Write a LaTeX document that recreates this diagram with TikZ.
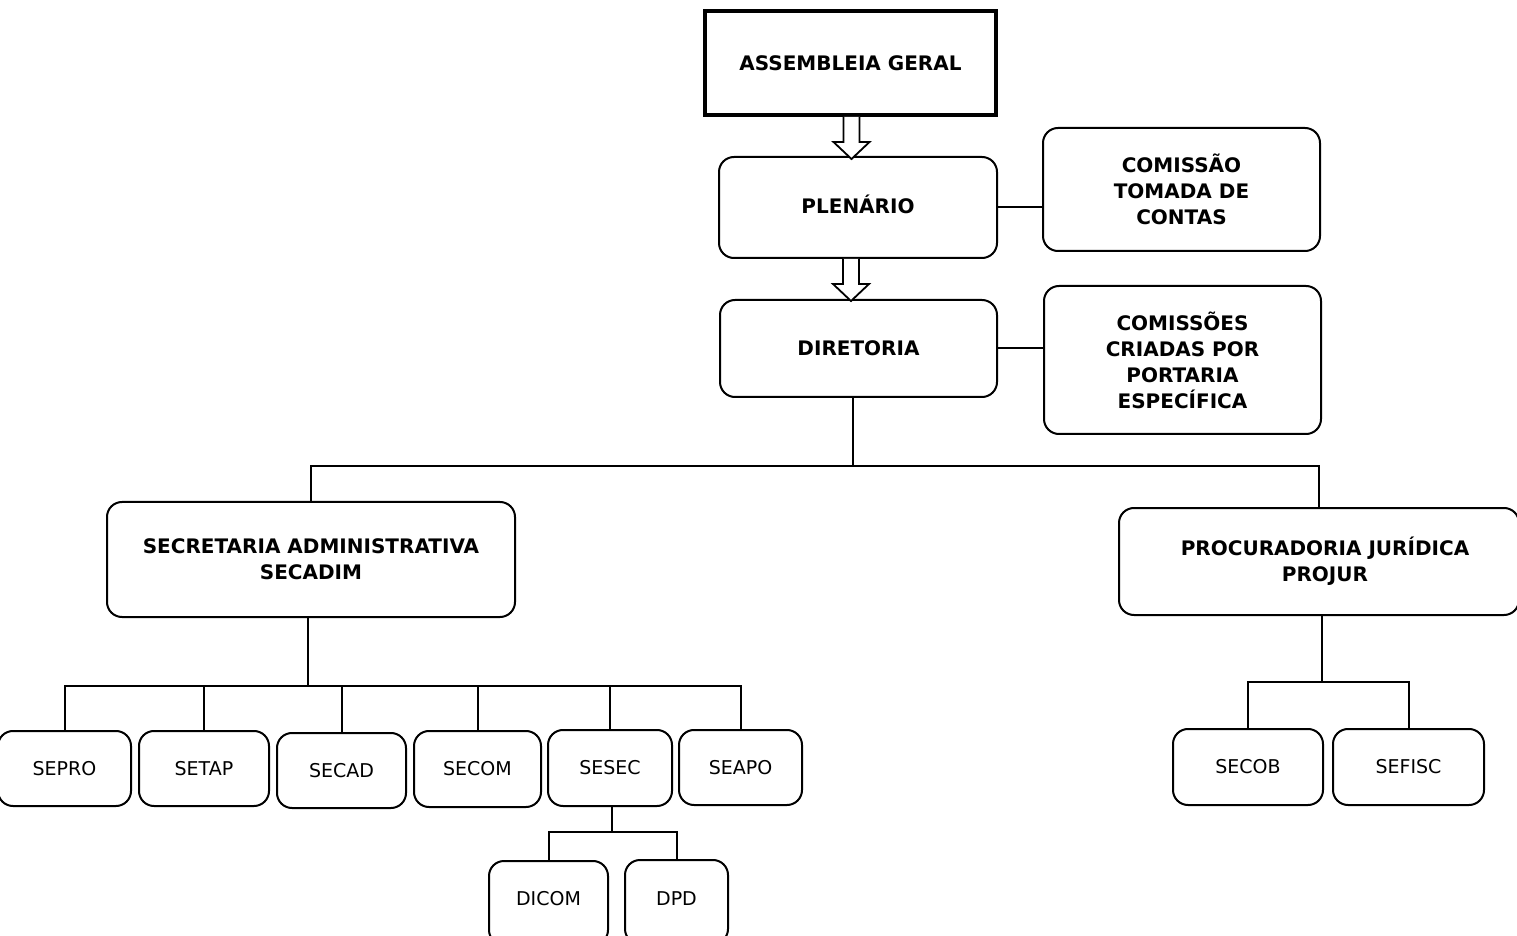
\documentclass[tikz,border=0pt]{standalone}
\usepackage{fontspec}
\setmainfont{DejaVu Sans}
\begin{document}
\begin{tikzpicture}[x=0.5pt,y=-0.5pt,
  box/.style={draw, line width=1pt, rounded corners=7.5pt, align=center, inner sep=0pt},
  bbox/.style={box, font=\bfseries\fontsize{10}{13}\selectfont},
  sbox/.style={box, font=\fontsize{9.5}{12}\selectfont},
  conn/.style={line width=1pt},
  harrow/.style={line width=0.9pt, fill=white, line join=miter}]
\clip (0,0) rectangle (1517,936);
\fill[white] (0,0) rectangle (1517,936);

% top level
\node[draw, line width=2pt, minimum width=145.5pt, minimum height=52pt, inner sep=0pt,
      font=\bfseries\fontsize{10}{13}\selectfont] (ag) at (850.5,63) {ASSEMBLEIA GERAL};
\node[bbox, minimum width=139pt, minimum height=50.5pt, text depth=3pt] (plen) at (858,207.5) {PLENÁRIO};
\node[bbox, minimum width=138.5pt, minimum height=48.5pt] (dir) at (858.5,348.5) {DIRETORIA};
\node[bbox, minimum width=138.5pt, minimum height=61.5pt] (ctc) at (1181.5,189.5) {COMISSÃO\\TOMADA DE\\CONTAS};
\node[bbox, minimum width=138.5pt, minimum height=74pt] (ccp) at (1182.5,360) {COMISSÕES\\CRIADAS POR\\PORTARIA\\ESPECÍFICA};

% second level
\node[bbox, minimum width=204pt, minimum height=57.5pt] (secadim) at (311,559.5) {SECRETARIA ADMINISTRATIVA\\SECADIM};
\node[bbox, minimum width=200pt, minimum height=53.5pt] (projur) at (1319,561.5) {\hspace*{6pt}PROCURADORIA JURÍDICA\\\hspace*{6pt}PROJUR};

% third level
\node[sbox, minimum width=66.5pt, minimum height=37.5pt] (sepro) at (64.5,768.5) {SEPRO};
\node[sbox, minimum width=65pt, minimum height=37.5pt] (setap) at (204,768.5) {SETAP};
\node[sbox, minimum width=64.5pt, minimum height=37.5pt] (secad) at (341.5,770.5) {SECAD};
\node[sbox, minimum width=63.5pt, minimum height=38pt] (secom) at (477.5,769) {SECOM};
\node[sbox, minimum width=62pt, minimum height=38pt] (sesec) at (610,768) {SESEC};
\node[sbox, minimum width=61.5pt, minimum height=37.5pt] (seapo) at (740.5,767.5) {SEAPO};

\node[sbox, minimum width=75pt, minimum height=38pt] (secob) at (1248,767) {SECOB};
\node[sbox, minimum width=75.5pt, minimum height=38pt] (sefisc) at (1408.5,767) {SEFISC};

% fourth level
\node[draw, line width=1pt, rounded corners=7.5pt, inner sep=0pt, minimum width=59.5pt, minimum height=42pt] (dicom) at (548.5,903) {};
\node[font=\fontsize{9.5}{12}\selectfont] at (548.5,899) {DICOM};
\node[draw, line width=1pt, rounded corners=7.5pt, inner sep=0pt, minimum width=51.5pt, minimum height=42pt] (dpd) at (676.5,902) {};
\node[font=\fontsize{9.5}{12}\selectfont] at (676.5,899) {DPD};

% hollow arrows
\draw[harrow] (ag.south) ++(-7,0) -- ++(0,25) -- ++(-10,0) -- ++(18,17) -- ++(18,-17) -- ++(-10,0) -- ++(0,-25);
\draw[harrow] (plen.south) ++(-15,0) -- ++(0,25) -- ++(-10,0) -- ++(18,17) -- ++(18,-17) -- ++(-10,0) -- ++(0,-25);

% side links
\draw[conn] (plen.east) -- (plen.east -| ctc.west);
\draw[conn] (dir.east) -- (dir.east -| ccp.west);

% tree: diretoria
\coordinate (b1) at (853,466);
\draw[conn] (b1 |- dir.south) -- (b1);
\draw[conn] (secadim.north) |- (b1) -| (projur.north);

% tree: secadim
\coordinate (b2) at (308,686);
\draw[conn] (b2 |- secadim.south) -- (b2);
\draw[conn] (sepro.north) |- (b2) -| (seapo.north);
\draw[conn] (setap.north) -- (setap.north |- b2);
\draw[conn] (secad.north) -- (secad.north |- b2);
\draw[conn] (secom.north) -- (secom.north |- b2);
\draw[conn] (sesec.north) -- (sesec.north |- b2);

% tree: sesec
\coordinate (b3) at (612,832);
\draw[conn] (b3 |- sesec.south) -- (b3);
\draw[conn] (dicom.north) |- (b3) -| (dpd.north);

% tree: projur
\coordinate (b4) at (1322,682);
\draw[conn] (b4 |- projur.south) -- (b4);
\draw[conn] (secob.north) |- (b4) -| (sefisc.north);
\end{tikzpicture}
\end{document}
